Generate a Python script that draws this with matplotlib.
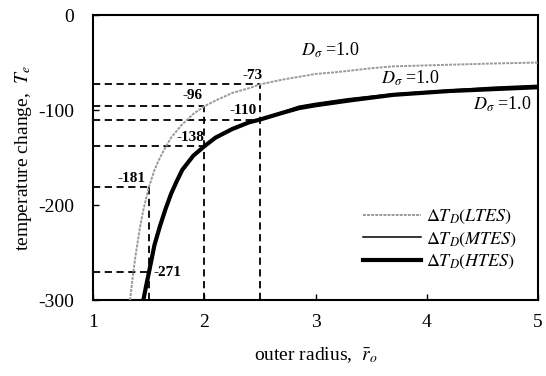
import matplotlib
matplotlib.use("Agg")
import matplotlib.pyplot as plt

plt.rcParams['font.family'] = ['Liberation Serif', 'DejaVu Serif']
plt.rcParams['mathtext.fontset'] = 'stix'
plt.rcParams['axes.unicode_minus'] = False

# temperature change vs outer radius, three storage classes
r_ltes = [1.33, 1.36, 1.38, 1.42, 1.45, 1.5, 1.55, 1.6, 1.65, 1.7, 1.8, 1.9, 2.0, 2.1,
          2.25, 2.4, 2.5, 2.7, 2.85, 3.0, 3.2, 3.5, 3.7, 4.0, 4.3, 4.6, 5.0]
t_ltes = [-300, -270, -253, -223, -205, -181, -163, -150, -139, -129, -115, -104, -96, -90,
          -82, -77, -73, -68, -65, -62, -60, -56, -54, -53, -52, -51, -50]

r_mtes = [1.45, 1.475, 1.5, 1.55, 1.6, 1.65, 1.7, 1.75, 1.8, 1.9, 2.0, 2.1, 2.25, 2.4,
          2.5, 2.7, 2.85, 3.0, 3.3, 3.7, 4.2, 4.6, 5.0]
t_mtes = [-300, -285, -271, -243, -222, -204, -188, -175, -163, -148, -138, -129, -119, -113,
          -110, -102, -96, -93, -88, -83, -79, -76, -74]

r_htes = [1.45, 1.475, 1.5, 1.55, 1.6, 1.65, 1.7, 1.75, 1.8, 1.9, 2.0, 2.1, 2.25, 2.4,
          2.5, 2.7, 2.85, 3.0, 3.3, 3.7, 4.2, 4.6, 5.0]
t_htes = [-300, -285, -271, -242, -222, -204, -188, -175, -163, -148, -138, -129, -120, -113,
          -110, -103, -98, -95, -90, -84, -80, -78, -76]

# read-off guides: radius, value
guide_r = [2.5, 2.0, 2.5, 2.0, 1.5, 1.5]
guide_t = [-73, -96, -110, -138, -181, -271]
# label position for each guide value
label_xy = [(2.43, -64), (1.89, -85), (2.35, -100), (1.87, -129), (1.34, -172), (1.67, -271)]

fig = plt.figure(figsize=(5.46, 3.76), dpi=100)
ax = fig.add_axes([0.171, 0.202, 0.814, 0.758])

dash = (0, (4, 2.5))
for r, t in zip(guide_r, guide_t):
    ax.plot([1, r], [t, t], color='black', lw=1.3, ls=dash, zorder=1)
for r in sorted(set(guide_r)):
    top = max(t for rr, t in zip(guide_r, guide_t) if rr == r)
    ax.plot([r, r], [-300, top], color='black', lw=1.3, ls=dash, zorder=1)

ax.plot(r_ltes, t_ltes, color='0.6', lw=1.4, ls=(0, (1.5, 0.6)), zorder=3,
        label=r'$\Delta T_D(LTES)$')
ax.plot(r_mtes, t_mtes, color='black', lw=1.1, zorder=3,
        label=r'$\Delta T_D(MTES)$')
ax.plot(r_htes, t_htes, color='black', lw=3.0, zorder=2, solid_joinstyle='round',
        label=r'$\Delta T_D(HTES)$')

for t, (x, y) in zip(guide_t, label_xy):
    ax.text(x, y, str(t), fontsize=11, fontweight='bold', ha='center', va='center')

for x, y in [(3.13, -37), (3.85, -67), (4.68, -94)]:
    ax.text(x, y, r'$D_{\sigma}$ =1.0', fontsize=13, ha='center', va='center')

ax.set_xlim(1, 5)
ax.set_ylim(-300, 0)
ax.set_xticks([1, 2, 3, 4, 5])
ax.set_yticks([0, -100, -200, -300])
ax.tick_params(direction='in', length=4, labelsize=14, width=1)
ax.tick_params(axis='x', pad=10)
ax.tick_params(axis='y', pad=14)
for s in ax.spines.values():
    s.set_linewidth(1.5)

ax.set_xlabel(r'outer radius,  $\bar{r}_o$', fontsize=14, labelpad=10)
ax.set_ylabel(r'temperature change,  $T_e$', fontsize=14, labelpad=3)

ax.legend(loc='upper left', bbox_to_anchor=(0.57, 0.38), frameon=False,
          fontsize=13, handlelength=3.2, handletextpad=0.3, labelspacing=0.25)

fig.savefig('out.png', dpi=100)
